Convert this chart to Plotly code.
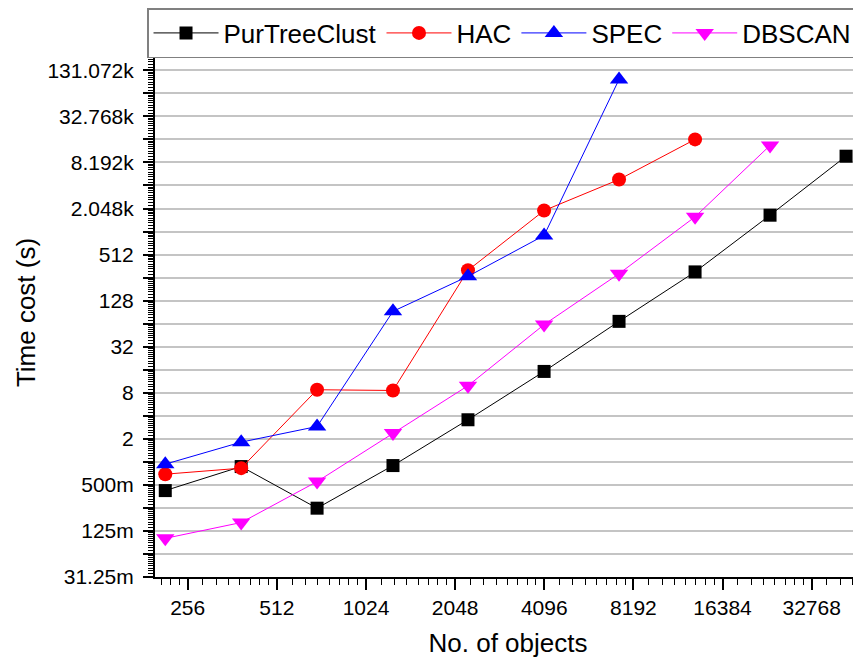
import plotly.graph_objects as go
import math

# ---- data ----
n_objects = [215, 388, 700, 1263, 2263, 4090, 7325, 13230, 23700, 42800]

purtreeclust = [0.421, 0.868, 0.248, 0.894, 3.55, 15.2, 68.6, 304, 1675, 9890]
hac = [0.690, 0.827, 8.76, 8.57, 319, 1926, 4900, 16400]
spec = [0.933, 1.81, 2.90, 92.7, 266, 910, 99600]
dbscan = [0.100, 0.161, 0.552, 2.375, 9.88, 62.2, 288, 1595, 13670]

series_names = ["PurTreeClust", "HAC", "SPEC", "DBSCAN"]

x_tick_values = [256, 512, 1024, 2048, 4096, 8192, 16384, 32768]
x_tick_labels = ["256", "512", "1024", "2048", "4096", "8192", "16384", "32768"]

y_exponents = list(range(-5, 19))  # powers of two for ticks / grid
y_label_map = {
    -5: "31.25m", -3: "125m", -1: "500m", 1: "2", 3: "8", 5: "32",
    7: "128", 9: "512", 11: "2.048k", 13: "8.192k", 15: "32.768k", 17: "131.072k",
}

FONT = "Liberation Sans, Arial, sans-serif"

fig = go.Figure()

styles = [
    dict(color="#000000", symbol="square", size=13),
    dict(color="#ff0000", symbol="circle", size=14),
    dict(color="#0000ff", symbol="triangle-up", size=16),
    dict(color="#ff00ff", symbol="triangle-down", size=16),
]
all_y = [purtreeclust, hac, spec, dbscan]
for name, ys, st in zip(series_names, all_y, styles):
    fig.add_trace(go.Scatter(
        x=n_objects[:len(ys)], y=ys, name=name, mode="lines+markers",
        line=dict(color=st["color"], width=1),
        marker=dict(color=st["color"], symbol=st["symbol"], size=st["size"],
                    line=dict(width=0)),
    ))

y_tickvals = [2.0 ** k for k in y_exponents]
y_ticktext = [y_label_map.get(k, "") for k in y_exponents]

y_minor = []
for k in range(-5, 18):
    v = 2.0 ** k
    for j in range(1, 10):
        y_minor.append(v * (1 + j / 10))

x_minor = []
for k in range(6, 16):
    v = 2.0 ** k
    for j in range(1, 8):
        x_minor.append(v * (1 + j / 8))

log2 = math.log10(2)
fig.update_layout(
    width=853, height=653,
    margin=dict(l=147, r=0, t=40, b=84),
    paper_bgcolor="white", plot_bgcolor="white",
    font=dict(family=FONT, color="black"),
    showlegend=True,
    legend=dict(
        orientation="h", x=-0.0113, y=1.0756, xanchor="left", yanchor="top",
        bordercolor="#808080", borderwidth=1.5, bgcolor="white",
        font=dict(size=26, family=FONT), itemwidth=65,
        tracegroupgap=0,
    ),
    xaxis=dict(
        type="log", range=[7.633 * log2, 15.553 * log2],
        tickmode="array", tickvals=x_tick_values, ticktext=x_tick_labels,
        ticks="outside", ticklen=11, tickwidth=1.5, tickcolor="black",
        showline=True, linecolor="black", linewidth=2,
        showgrid=False, zeroline=False,
        tickfont=dict(size=21, family=FONT),
        minor=dict(tickmode="array", tickvals=x_minor, ticks="outside",
                   ticklen=6, tickwidth=1.2, tickcolor="black", showgrid=False),
        title=dict(text="No. of objects", font=dict(size=26, family=FONT), standoff=16),
    ),
    yaxis=dict(
        type="log", range=[-5 * log2, 17.97 * log2],
        tickmode="array", tickvals=y_tickvals, ticktext=y_ticktext,
        ticks="outside", ticklen=10, tickwidth=1.5, tickcolor="black",
        ticklabelstandoff=5,
        showline=True, linecolor="black", linewidth=2,
        showgrid=True, gridcolor="#c4c4c4", gridwidth=1.5, zeroline=False,
        tickfont=dict(size=21, family=FONT),
        minor=dict(tickmode="array", tickvals=y_minor, ticks="outside",
                   ticklen=5, tickwidth=1, tickcolor="black", showgrid=False),
        title=dict(text="Time cost (s)", font=dict(size=26, family=FONT), standoff=4),
    ),
)

fig.write_html("out.html")
